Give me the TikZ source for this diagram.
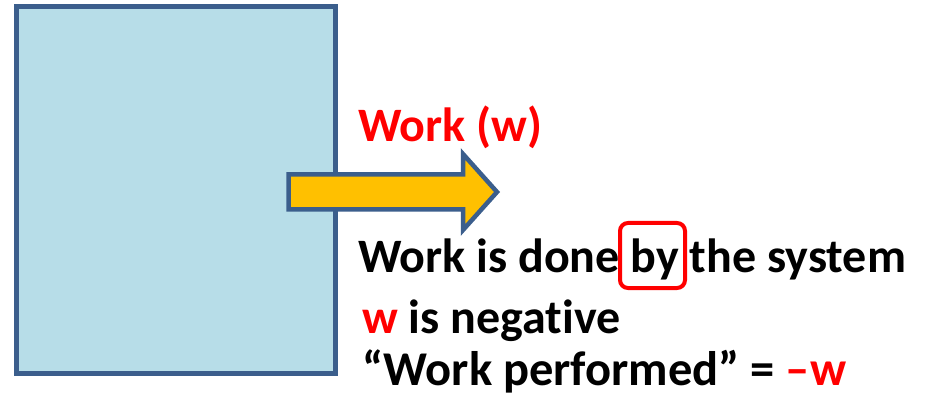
\documentclass[tikz,border=0pt]{standalone}
\usepackage{fontspec}
\setmainfont{Carlito}[Ligatures=NoCommon]
\definecolor{boxblue}{HTML}{B7DDE8}
\definecolor{edgeblue}{HTML}{3B5E8C}
\definecolor{arrowgold}{HTML}{FFC000}
\definecolor{txtred}{HTML}{FF0000}
\begin{document}
\begin{tikzpicture}[x=1pt,y=-1pt,
  txt/.style={anchor=base west,inner sep=0pt,font=\fontsize{48}{48}\selectfont\bfseries},
  hilite/.style={draw=txtred,line width=4pt,rounded corners=8pt}]
\useasboundingbox (0,0) rectangle (928,403);
\draw[edgeblue,fill=boxblue,line width=5pt] (16.5,6.5) rectangle (335.5,373.5);
\draw[edgeblue,fill=arrowgold,line width=4.5pt,line join=miter]
  (288.5,174.5) -- (463,174.5) -- (463,154) -- (497,192) -- (463,230) -- (463,209.5) -- (288.5,209.5) -- cycle;
\node[txt,text=txtred] (work) at (358,142) {Work (w)};
\node[txt] (line2) at (358,272) {Work is done by the system};
\node[txt] (line3) at (362,333) {\textcolor{txtred}{w} is negative};
\node[txt,font=\fontsize{48.5}{48.5}\selectfont\bfseries] (line4) at (362,385) {“Work performed” = \textcolor{txtred}{–w}};
\draw[hilite] (620,223) rectangle (685,288);
\end{tikzpicture}
\end{document}
